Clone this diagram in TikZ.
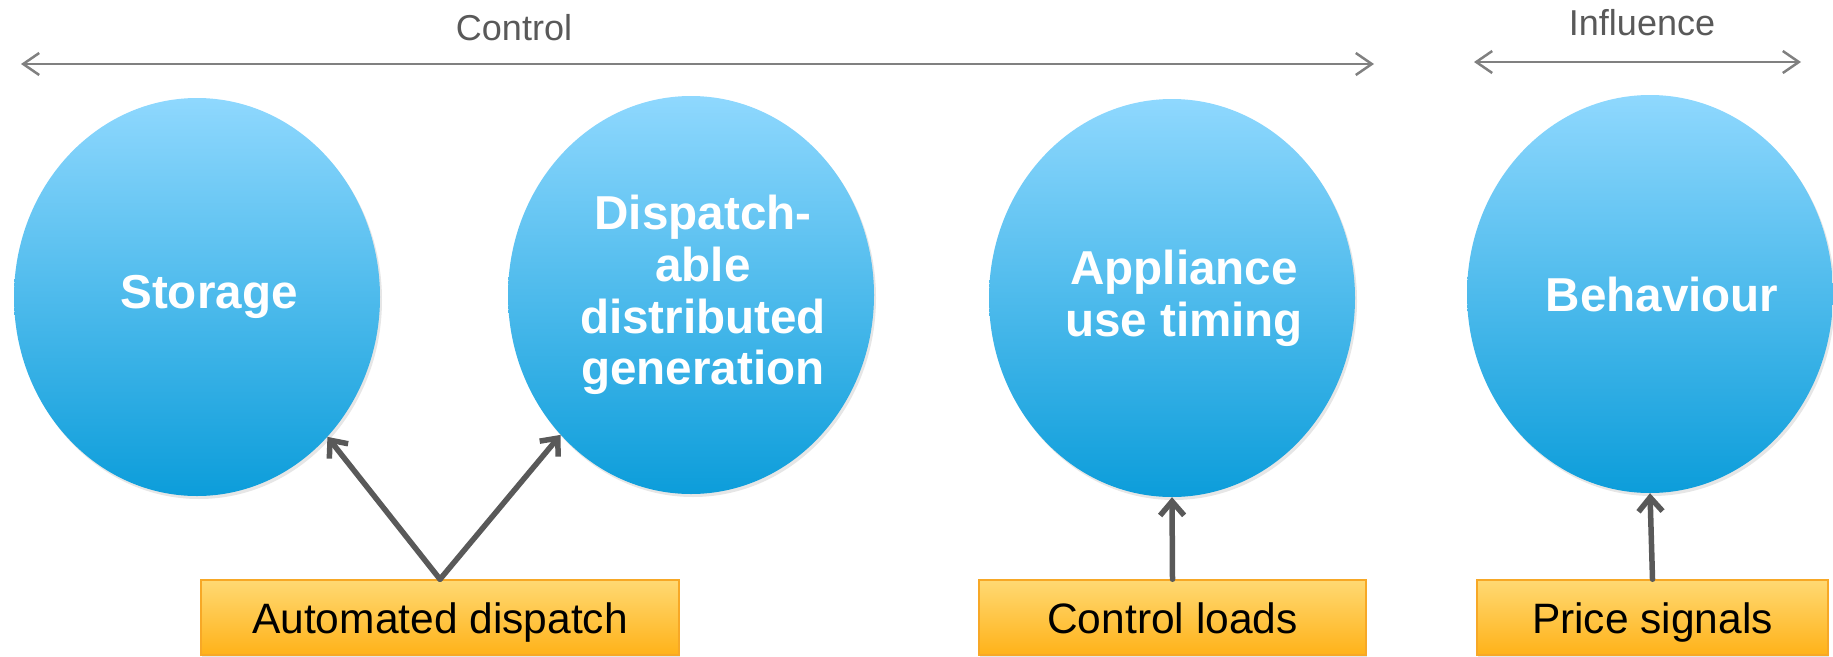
\documentclass[tikz,border=0pt]{standalone}
\usepackage{fontspec}
\setmainfont{Liberation Sans}
\usetikzlibrary{arrows.meta, shapes.geometric, shadows}

\definecolor{skytop}{RGB}{143,216,254}
\definecolor{skybot}{RGB}{12,157,218}
\definecolor{ambertop}{RGB}{255,217,115}
\definecolor{amberbot}{RGB}{255,178,25}
\definecolor{amberline}{RGB}{247,168,38}
\definecolor{slate}{RGB}{89,89,89}
\definecolor{mist}{RGB}{128,128,128}

\tikzset{
	blob/.style={ellipse, minimum width=366pt, minimum height=398pt, inner sep=0pt,
		top color=skytop, bottom color=skybot,
		drop shadow={shadow xshift=2pt, shadow yshift=-3pt, opacity=.2}},
	blobtext/.style={text=white, align=center, inner sep=0pt, xshift=12pt,
		font=\fontsize{47.6}{51.7}\selectfont\bfseries},
	tag/.style={rectangle, minimum height=75pt, inner sep=0pt,
		top color=ambertop, bottom color=amberbot, draw=amberline, line width=1.5pt,
		text height=31pt, text depth=0pt, font=\fontsize{42.5}{48}\selectfont,
		drop shadow={shadow xshift=1pt, shadow yshift=-2pt, opacity=.2}},
	push/.style={draw=slate, line width=5.5pt, line cap=round,
		-{Straight Barb[length=14pt, width=24pt]}},
	span/.style={draw=mist, line width=2.5pt,
		{Straight Barb[length=16pt, width=22pt]}-{Straight Barb[length=16pt, width=22pt]}},
	lbl/.style={text=slate, anchor=base, inner sep=0pt, font=\fontsize{36}{40}\selectfont}
}

\begin{document}
\begin{tikzpicture}[x=1pt, y=-1pt]
	\useasboundingbox (0,0) rectangle (1833,656);

	\coordinate (cw) at (21,64);
	\coordinate (ce) at (1374,64);
	\coordinate (iw) at (1474,62);
	\coordinate (ie) at (1801,62);
	\draw[span] (cw) -- (ce);
	\draw[span] (iw) -- (ie);
	\node[lbl] (ctl) at (514,40) {Control};
	\node[lbl] (inf) at (1642,35) {Influence};

	\node[blob, label={[blobtext, name=stt]center:Storage}] (st) at (197,297) {};
	\node[blob, label={[blobtext, name=dgt]center:Dispatch-\\able\\distributed\\generation}] (dg) at (691,295) {};
	\node[blob, label={[blobtext, name=apt]center:Appliance\\use timing}] (ap) at (1172,298) {};
	\node[blob, label={[blobtext, name=bht]center:Behaviour}] (bh) at (1650,294) {};

	\node[tag, minimum width=478pt] (ad) at (440,617.5) {Automated dispatch};
	\node[tag, minimum width=387pt] (cl) at (1172.5,617.5) {Control loads};
	\node[tag, minimum width=351pt] (ps) at (1652.5,617.5) {Price signals};

	\begin{scope}[push]
		\draw (ad.north) -- (st.-47);
		\draw (ad.north) -- (dg.-133);
		\draw (cl.north) -- (ap.south);
		\draw (ps.north) -- (bh.south);
	\end{scope}
\end{tikzpicture}
\end{document}
